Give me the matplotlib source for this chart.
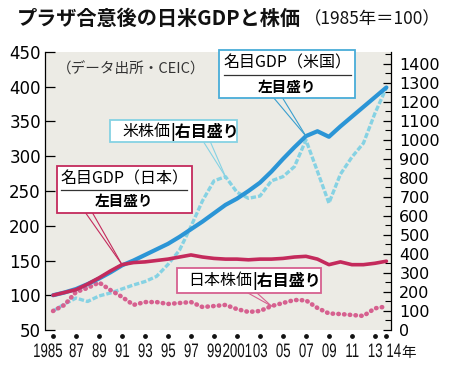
import numpy as np
import matplotlib.pyplot as plt
import matplotlib.transforms as mtransforms
from matplotlib.patches import Rectangle, PathPatch
from matplotlib.lines import Line2D
from matplotlib.ticker import MultipleLocator
from matplotlib.textpath import TextPath
from matplotlib.font_manager import FontProperties

plt.rcParams['font.family'] = ['Noto Sans CJK JP', 'DejaVu Sans']

# data (1985 = 100)
years = np.arange(1985, 2015)
us_gdp = [100, 104, 109, 116, 124, 133, 143, 150, 158, 166, 174, 184, 195, 206, 218,
          230, 239, 250, 262, 278, 296, 313, 329, 336, 328, 343, 357, 371, 385, 399]
jp_gdp = [100, 104, 108, 116, 125, 135, 144, 147, 148, 150, 152, 155, 158, 155, 153,
          152, 152, 151, 152, 152, 153, 155, 156, 152, 144, 148, 144, 144, 146, 149]
us_stock = [100, 137, 168, 150, 179, 195, 216, 237, 255, 282, 345, 420, 545, 680, 785,
            807, 725, 693, 705, 785, 807, 860, 1000, 835, 668, 820, 910, 983, 1140, 1275]
jp_stock = [100, 132, 200, 221, 250, 210, 174, 132, 147, 147, 137, 142, 147, 121, 126,
            132, 110, 95, 100, 126, 142, 158, 156, 116, 87, 84, 79, 74, 114, 124]

tick_years = [1985, 1987, 1989, 1991, 1993, 1995, 1997, 1999, 2001, 2003, 2005,
              2007, 2009, 2011, 2013, 2014]
tick_labels = ['1985', '87', '89', '91', '93', '95', '97', '99', '2001', '03', '05',
               '07', '09', '11', '13', '14']
left_ticks = [50, 100, 150, 200, 250, 300, 350, 400, 450]
right_ticks = list(range(0, 1500, 100))

c_us_gdp = '#2b95d6'
c_us_stock = '#86d2e3'
c_jp_gdp = '#c42a5c'
c_jp_stock = '#d6608f'
bg = '#ecebe5'

W, H = 450, 365


def fx(x):
    return x / W


def fy(y):
    return 1 - y / H


fig = plt.figure(figsize=(4.5, 3.65), dpi=100)
ax = fig.add_axes([fx(45), fy(330), fx(391) - fx(45), fy(52) - fy(330)])
ax2 = ax.twinx()
ax.set_zorder(ax2.get_zorder() + 1)
ax.patch.set_visible(False)
ax2.patch.set_visible(True)
ax2.set_facecolor(bg)

# stocks on right axis
ax2.plot(years, us_stock, color=c_us_stock, lw=2.4, linestyle=(0, (1.6, 0.6)))
ax2.plot(years, jp_stock, color=c_jp_stock, lw=3.3, linestyle=(0, (0.1, 1.15)),
         dash_capstyle='round')
# GDP on left axis
ax.plot(years, us_gdp, color=c_us_gdp, lw=3.0, solid_capstyle='round')
ax.plot(years, jp_gdp, color=c_jp_gdp, lw=2.6, solid_capstyle='round')

ax.set_xlim(1984.3, 2014.4)
ax.set_ylim(50, 450)
ax2.set_ylim(0, 1463)

for a in (ax, ax2):
    a.spines['top'].set_visible(False)
    a.spines['bottom'].set_visible(False)
    a.spines['left'].set_linewidth(0.9)
    a.spines['right'].set_linewidth(0.9)
ax.spines['right'].set_visible(False)
ax2.spines['left'].set_visible(False)

ax.set_yticks(left_ticks)
ax.tick_params(axis='y', direction='in', length=7, width=0.9, labelsize=12, pad=3)
ax2.set_yticks(right_ticks)
ax2.yaxis.set_minor_locator(MultipleLocator(50))
ax2.tick_params(axis='y', which='major', direction='in', length=6, width=0.9,
                labelsize=11.5, pad=6)
ax2.tick_params(axis='y', which='minor', direction='in', length=4, width=0.8)
for lab in ax.get_yticklabels() + ax2.get_yticklabels():
    lab.set_fontfamily('DejaVu Sans')

ax.set_xticks(tick_years)
ax.set_xticklabels([])
ax.tick_params(axis='x', length=0)

# dots under the axis for the year ticks
trans = mtransforms.blended_transform_factory(ax.transData, ax.transAxes)
ax.scatter(tick_years, [-0.022] * len(tick_years), s=6, color='#111111',
           transform=trans, clip_on=False, zorder=5)

# condensed year labels (drawn as squeezed text paths)
num_font = FontProperties(family='Liberation Sans')
base_px = H - 357
squeeze = 0.68
for yr, lab in zip(tick_years, tick_labels):
    x_px = ax.transData.transform((yr, 100))[0]
    tp = TextPath((0, 0), lab, size=19.5, prop=num_font)
    w = tp.get_extents().x1 * squeeze
    if yr == tick_years[0]:
        x0 = x_px + 9 - w
    elif yr == tick_years[-1]:
        x0 = x_px
    else:
        x0 = x_px - w / 2
    tr = mtransforms.Affine2D().scale(squeeze, 1).translate(x0, base_px)
    fig.add_artist(PathPatch(tr.transform_path(tp), transform=mtransforms.IdentityTransform(),
                             fc='#111111', ec='none', zorder=6))
    if yr == tick_years[-1]:
        fig.text((x0 + w + 0.5) / W, base_px / H, '年', fontsize=10.5, ha='left',
                 va='baseline', color='#111111')

# titles
fig.text(fx(17), fy(18), 'プラザ合意後の日米GDPと株価', fontsize=14.5, fontweight='bold',
         ha='left', va='center', color='#111111')
fig.text(fx(304), fy(19), '（1985年＝100）', fontsize=12.5, ha='left', va='center',
         color='#111111')
fig.text(fx(57), fy(69), '（データ出所・CEIC）', fontsize=10.5, ha='left', va='center',
         color='#333333', zorder=6)


def box(x0, y0, x1, y1, ec):
    fig.add_artist(Rectangle((fx(x0), fy(y1)), fx(x1) - fx(x0), fy(y0) - fy(y1),
                             transform=fig.transFigure, fc='white', ec=ec, lw=1.3,
                             zorder=5))


def leader(axis, x, y, starts, color):
    for sx, sy in starts:
        axis.annotate('', xy=(x, y), xycoords='data',
                      xytext=(fx(sx), fy(sy)), textcoords='figure fraction',
                      arrowprops=dict(arrowstyle='-', color=color, lw=0.8,
                                      shrinkA=0, shrinkB=0))


# US GDP label
i07 = list(years).index(2007)
leader(ax, 2007, us_gdp[i07], [(273, 97), (282, 97)], '#3a9fcf')
box(219, 50, 355, 98, '#49acd8')
fig.text(fx(287), fy(63), '名目GDP（米国）', fontsize=11.5, ha='center', va='center', zorder=6)
fig.add_artist(Line2D([fx(224), fx(351)], [fy(75), fy(75)], color='#333333', lw=0.9, zorder=6))
fig.text(fx(287), fy(87), '左目盛り', fontsize=10.5, fontweight='bold', ha='center',
         va='center', zorder=6)

# US stock label
i00 = list(years).index(2000)
leader(ax2, 2000, us_stock[i00], [(203, 141), (210, 141)], c_us_stock)
box(110, 120, 237, 142, c_us_stock)
fig.text(fx(170), fy(131.5), '米株価', fontsize=11.5, ha='right', va='center', zorder=6)
fig.text(fx(170), fy(131.5), '|右目盛り', fontsize=11.5, fontweight='bold', ha='left',
         va='center', zorder=6)

# Japan GDP label
i91 = list(years).index(1991)
leader(ax, 1991, jp_gdp[i91], [(85, 212), (92, 212)], c_jp_gdp)
box(57, 166, 192, 213, c_jp_gdp)
fig.text(fx(124), fy(178.5), '名目GDP（日本）', fontsize=11.5, ha='center', va='center', zorder=6)
fig.add_artist(Line2D([fx(61), fx(187)], [fy(190), fy(190)], color='#333333', lw=0.9, zorder=6))
fig.text(fx(124), fy(201), '左目盛り', fontsize=10.5, fontweight='bold', ha='center',
         va='center', zorder=6)

# Japan stock label
i04 = list(years).index(2004)
leader(ax2, 2004, jp_stock[i04], [(248, 293), (257, 293)], c_jp_stock)
box(177, 268, 321, 293, c_jp_stock)
fig.text(fx(252), fy(281), '日本株価', fontsize=11.5, ha='right', va='center', zorder=6)
fig.text(fx(252), fy(281), '|右目盛り', fontsize=11.5, fontweight='bold', ha='left',
         va='center', zorder=6)

fig.savefig('out.png', dpi=100, facecolor='white')
